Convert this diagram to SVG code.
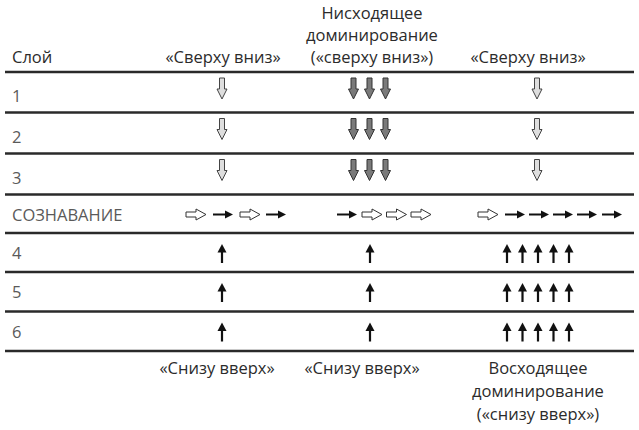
<svg xmlns="http://www.w3.org/2000/svg" xmlns:xlink="http://www.w3.org/1999/xlink" width="639" height="430" viewBox="0 0 639 430">
<style>
.t{font-family:"Open Sans","Noto Sans","Liberation Sans",sans-serif;font-size:16.5px;fill:#2b2b2b}
.c{text-anchor:middle}
.r{font-family:"Open Sans","Noto Sans","Liberation Sans",sans-serif;font-size:16.5px;fill:#5a5a5a}
.rule{stroke:#2a2a2a;stroke-width:2.6}
</style>
<defs>
<path id="dl" d="M-2.5,0 H2.5 V11 H5 L0,21 L-5,11 H-2.5 Z" fill="#dedede" stroke="#444" stroke-width="1"/>
<path id="dd" d="M-2.5,0 H2.5 V11 H5 L0,21 L-5,11 H-2.5 Z" fill="#7a7a7a" stroke="#333" stroke-width="1"/>
<path id="hh" d="M0,-2.5 H10 V-5.5 L20,0 L10,5.5 V2.5 H0 Z" fill="#fff" stroke="#333" stroke-width="1"/>
<g id="hs"><path d="M0,0 H14" stroke="#111" stroke-width="2"/><path d="M12,-4 L20,0 L12,4 Z" fill="#111"/></g>
<g id="up"><path d="M0,19 V6" stroke="#111" stroke-width="2.2"/><path d="M-4.5,8.5 L0,0 L4.5,8.5 Z" fill="#111"/></g>
</defs>

<g id="header">
<text class="t" x="12" y="63">Слой</text>
<text class="t c" x="223" y="63">«Сверху вниз»</text>
<text class="t c" x="372" y="19">Нисходящее</text>
<text class="t c" x="372" y="41">доминирование</text>
<text class="t c" x="372" y="63">(«сверху вниз»)</text>
<text class="t c" x="528" y="63">«Сверху вниз»</text>
</g>

<g id="rules">
<line class="rule" x1="5" y1="72" x2="634" y2="72"/>
<line class="rule" x1="5" y1="112.5" x2="634" y2="112.5"/>
<line class="rule" x1="5" y1="153.5" x2="634" y2="153.5"/>
<line class="rule" x1="5" y1="194.5" x2="634" y2="194.5"/>
<line class="rule" x1="5" y1="233" x2="634" y2="233"/>
<line class="rule" x1="5" y1="272" x2="634" y2="272"/>
<line class="rule" x1="5" y1="311.5" x2="634" y2="311.5"/>
<line class="rule" x1="5" y1="351" x2="634" y2="351"/>
</g>

<g id="row1">
<text class="r" x="12" y="102">1</text>
<use xlink:href="#dl" x="222" y="78"/>
<use xlink:href="#dd" x="353.5" y="78"/><use xlink:href="#dd" x="369.5" y="78"/><use xlink:href="#dd" x="385.5" y="78"/>
<use xlink:href="#dl" x="537" y="78"/>
</g>
<g id="row2">
<text class="r" x="12" y="143">2</text>
<use xlink:href="#dl" x="222" y="118.5"/>
<use xlink:href="#dd" x="353.5" y="118.5"/><use xlink:href="#dd" x="369.5" y="118.5"/><use xlink:href="#dd" x="385.5" y="118.5"/>
<use xlink:href="#dl" x="537" y="118.5"/>
</g>
<g id="row3">
<text class="r" x="12" y="184">3</text>
<use xlink:href="#dl" x="222" y="159.5"/>
<use xlink:href="#dd" x="353.5" y="159.5"/><use xlink:href="#dd" x="369.5" y="159.5"/><use xlink:href="#dd" x="385.5" y="159.5"/>
<use xlink:href="#dl" x="537" y="159.5"/>
</g>
<g id="awareness">
<text class="r" x="12" y="221">СОЗНАВАНИЕ</text>
<use xlink:href="#hh" x="186" y="214.5"/><use xlink:href="#hs" x="213" y="214.5"/>
<use xlink:href="#hh" x="240" y="214.5"/><use xlink:href="#hs" x="266" y="214.5"/>
<use xlink:href="#hs" x="337" y="214.5"/><use xlink:href="#hh" x="362" y="214.5"/>
<use xlink:href="#hh" x="386.5" y="214.5"/><use xlink:href="#hh" x="411" y="214.5"/>
<use xlink:href="#hh" x="478" y="214.5"/><use xlink:href="#hs" x="505" y="214.5"/>
<use xlink:href="#hs" x="529" y="214.5"/><use xlink:href="#hs" x="553" y="214.5"/>
<use xlink:href="#hs" x="577" y="214.5"/><use xlink:href="#hs" x="602" y="214.5"/>
</g>
<g id="row4">
<text class="r" x="12" y="259">4</text>
<use xlink:href="#up" x="222" y="244"/><use xlink:href="#up" x="370" y="244"/>
<use xlink:href="#up" x="507" y="244"/><use xlink:href="#up" x="522.5" y="244"/><use xlink:href="#up" x="538" y="244"/><use xlink:href="#up" x="553.5" y="244"/><use xlink:href="#up" x="569" y="244"/>
</g>
<g id="row5">
<text class="r" x="12" y="298">5</text>
<use xlink:href="#up" x="222" y="283"/><use xlink:href="#up" x="370" y="283"/>
<use xlink:href="#up" x="507" y="283"/><use xlink:href="#up" x="522.5" y="283"/><use xlink:href="#up" x="538" y="283"/><use xlink:href="#up" x="553.5" y="283"/><use xlink:href="#up" x="569" y="283"/>
</g>
<g id="row6">
<text class="r" x="12" y="338">6</text>
<use xlink:href="#up" x="222" y="322.5"/><use xlink:href="#up" x="370" y="322.5"/>
<use xlink:href="#up" x="507" y="322.5"/><use xlink:href="#up" x="522.5" y="322.5"/><use xlink:href="#up" x="538" y="322.5"/><use xlink:href="#up" x="553.5" y="322.5"/><use xlink:href="#up" x="569" y="322.5"/>
</g>

<g id="footer">
<text class="t c" x="217" y="374">«Снизу вверх»</text>
<text class="t c" x="362" y="374">«Снизу вверх»</text>
<text class="t c" x="538" y="374">Восходящее</text>
<text class="t c" x="538" y="397">доминирование</text>
<text class="t c" x="538" y="420">(«снизу вверх»)</text>
</g>
</svg>
